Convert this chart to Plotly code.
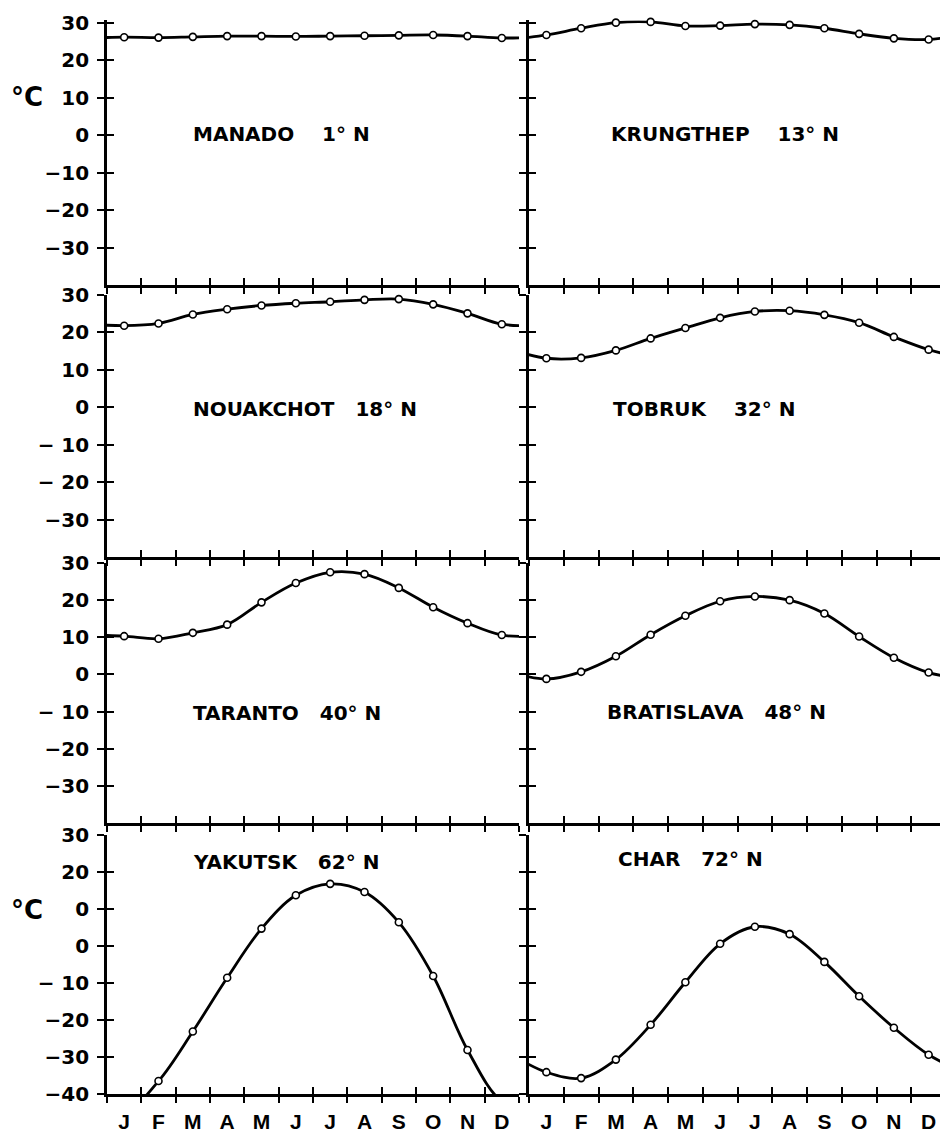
import plotly.graph_objects as go

# ---------------- data ----------------
months = ["J", "F", "M", "A", "M", "J", "J", "A", "S", "O", "N", "D"]
month_mid = [i + 0.5 for i in range(12)]
month_edges = list(range(13))

station_labels = [
    "MANADO\u00a0\u00a0\u00a0\u00a01°\u00a0N",
    "KRUNGTHEP\u00a0\u00a0\u00a0\u00a013°\u00a0N",
    "NOUAKCHOT\u00a0\u00a0\u00a018°\u00a0N",
    "TOBRUK\u00a0\u00a0\u00a0\u00a032°\u00a0N",
    "TARANTO\u00a0\u00a0\u00a040°\u00a0N",
    "BRATISLAVA\u00a0\u00a0\u00a048°\u00a0N",
    "YAKUTSK\u00a0\u00a0\u00a062°\u00a0N",
    "CHAR\u00a0\u00a0\u00a072°\u00a0N",
]

manado = [26.2, 26.1, 26.3, 26.5, 26.5, 26.4, 26.5, 26.6, 26.7, 26.8, 26.5, 26.0]
krungthep = [26.8, 28.6, 30.1, 30.3, 29.2, 29.3, 29.7, 29.5, 28.6, 27.1, 25.9, 25.6]
nouakchot = [21.8, 22.4, 24.8, 26.2, 27.2, 27.8, 28.2, 28.7, 28.9, 27.5, 25.1, 22.2]
tobruk = [13.1, 13.2, 15.2, 18.4, 21.2, 23.9, 25.6, 25.8, 24.7, 22.6, 18.8, 15.4]
taranto = [10.3, 9.6, 11.2, 13.4, 19.4, 24.6, 27.5, 27.0, 23.3, 18.1, 13.8, 10.6]
bratislava = [-1.2, 0.7, 4.9, 10.7, 15.8, 19.7, 21.0, 20.0, 16.4, 10.2, 4.5, 0.5]
yakutsk = [-45.0, -36.5, -23.1, -8.6, 4.7, 13.7, 16.8, 14.6, 6.4, -8.1, -28.1, -42.0]
char = [-34.1, -35.7, -30.7, -21.3, -9.8, 0.6, 5.2, 3.2, -4.3, -13.6, -22.1, -29.4]

series = [manado, krungthep, nouakchot, tobruk, taranto, bratislava, yakutsk, char]

ytick_vals_top = [30, 20, 10, 0, -10, -20, -30]
ytick_vals_bottom = [30, 20, 10, 0, -10, -20, -30, -40]
ytick_text_rows = [
    ["30", "20", "10", "0", "−10", "−20", "−30"],
    ["30", "20", "10", "0", "− 10", "− 20", "−30"],
    ["30", "20", "10", "0", "− 10", "−20", "−30"],
    ["30", "20", "0", "0", "− 10", "−20", "−30", "−40"],
]
y_min = -40
y_tick_top = 30
row_y_max = [30.7, 30, 30, 30]   # row 1 leaves room for the Krungthep peak
x_range = [0, 12]

# ---------------- layout geometry ----------------
PAGE_OFF = 8                      # default body margin of the written page
W, H = 948 - PAGE_OFF, 1133 - PAGE_OFF
col_px = [(107, 519), (529, 946)]                           # page pixels
row_px = [(23, 285), (295, 557), (563, 823), (835, 1094)]   # 30 tick / -40 axis
label_pos = [  # (x in months, y in °C) for station names
    (2.45, 0.4), (2.3, 0.4),
    (2.45, -0.4), (2.35, -0.4),
    (2.45, -10.5), (2.2, -10.2),
    (2.45, 22.8), (2.5, 23.4),
]

FONT = "DejaVu Sans"
MONTH_FONT = "Liberation Sans"
fig = go.Figure()
layout = {}
annotations = []

for k, vals in enumerate(series):
    r, c = divmod(k, 2)
    i = k + 1
    j = k + 9
    y_max = row_y_max[r]
    top_px, bot_px = row_px[r]
    px_per_deg = (bot_px - top_px) / (y_tick_top - y_min)
    top_px_ext = top_px - (y_max - y_tick_top) * px_per_deg
    xd = [(col_px[c][0] - PAGE_OFF) / W, (col_px[c][1] - PAGE_OFF) / W]
    yd = [1 - (bot_px - PAGE_OFF) / H, 1 - (top_px_ext - PAGE_OFF) / H]
    y_range = [y_min, y_max]

    # smooth curve, wrapped around the year so it runs to the panel edges
    xs = [-0.5] + month_mid + [12.5]
    ys = [vals[-1]] + vals + [vals[0]]
    fig.add_trace(go.Scatter(
        x=xs, y=ys, mode="lines",
        line=dict(color="black", width=2.8, shape="spline", smoothing=1.0),
        xaxis=f"x{i}", yaxis=f"y{i}", showlegend=False, hoverinfo="skip",
    ))
    # monthly points (only those inside the axis range)
    mv = [v if y_min <= v <= y_max else None for v in vals]
    fig.add_trace(go.Scatter(
        x=month_mid, y=mv, mode="markers",
        marker=dict(symbol="circle", size=7, color="white",
                    line=dict(color="black", width=1.6)),
        cliponaxis=False,
        xaxis=f"x{i}", yaxis=f"y{i}", showlegend=False,
    ))
    # empty trace to carry the overlay axes (inner halves of the ticks)
    fig.add_trace(go.Scatter(x=[], y=[], xaxis=f"x{j}", yaxis=f"y{j}",
                             showlegend=False))

    bottom = (r == 3)
    yvals = ytick_vals_bottom if bottom else ytick_vals_top
    tick_font = dict(family=FONT, size=20, color="black", weight="bold")
    month_font = dict(family=MONTH_FONT, size=21, color="black", weight="bold")

    layout[f"xaxis{i}"] = dict(
        domain=xd, anchor=f"y{i}", range=x_range, automargin=False,
        tickmode="array", tickvals=month_mid, ticktext=months,
        ticks="", showticklabels=bottom, tickfont=month_font,
        ticklabelstandoff=7,
        minor=dict(tickmode="array", tickvals=month_edges, ticks="outside",
                   ticklen=6, tickwidth=2, tickcolor="black"),
        showline=True, linewidth=2.6, linecolor="black",
        showgrid=False, zeroline=False, fixedrange=True,
    )
    layout[f"yaxis{i}"] = dict(
        domain=yd, anchor=f"x{i}", range=y_range, automargin=False,
        tickmode="array", tickvals=yvals, ticktext=ytick_text_rows[r],
        ticks="outside", ticklen=7, tickwidth=2, tickcolor="black",
        showticklabels=(c == 0), tickfont=tick_font, ticklabelstandoff=4,
        showline=True, linewidth=2.6, linecolor="black",
        showgrid=False, zeroline=False, fixedrange=True,
    )
    layout[f"xaxis{j}"] = dict(
        domain=xd, anchor=f"y{j}", overlaying=f"x{i}", range=x_range,
        automargin=False,
        tickmode="array", tickvals=month_edges, ticks="inside",
        ticklen=7, tickwidth=2, tickcolor="black", showticklabels=False,
        showline=False, showgrid=False, zeroline=False, fixedrange=True,
    )
    layout[f"yaxis{j}"] = dict(
        domain=yd, anchor=f"x{j}", overlaying=f"y{i}", range=y_range,
        automargin=False,
        tickmode="array", tickvals=yvals, ticks="inside",
        ticklen=7, tickwidth=2, tickcolor="black", showticklabels=False,
        showline=False, showgrid=False, zeroline=False, fixedrange=True,
    )

    lx, ly = label_pos[k]
    annotations.append(dict(
        x=lx, y=ly, xref=f"x{i}", yref=f"y{i}", text=station_labels[k],
        showarrow=False, xanchor="left", yanchor="middle",
        font=dict(family=FONT, size=20, color="black", weight="bold"),
    ))

for ycen in (96.5, 910):
    annotations.append(dict(
        x=(27 - PAGE_OFF) / W, y=1 - (ycen - PAGE_OFF) / H,
        xref="paper", yref="paper", text="°C",
        showarrow=False, xanchor="center", yanchor="middle",
        font=dict(family=FONT, size=26, color="black", weight="bold"),
    ))

fig.update_layout(
    width=W, height=H,
    margin=dict(l=0, r=0, t=0, b=0, pad=0),
    paper_bgcolor="white", plot_bgcolor="rgba(0,0,0,0)",
    showlegend=False,
    annotations=annotations,
    **layout,
)

fig.write_html("out.html")
